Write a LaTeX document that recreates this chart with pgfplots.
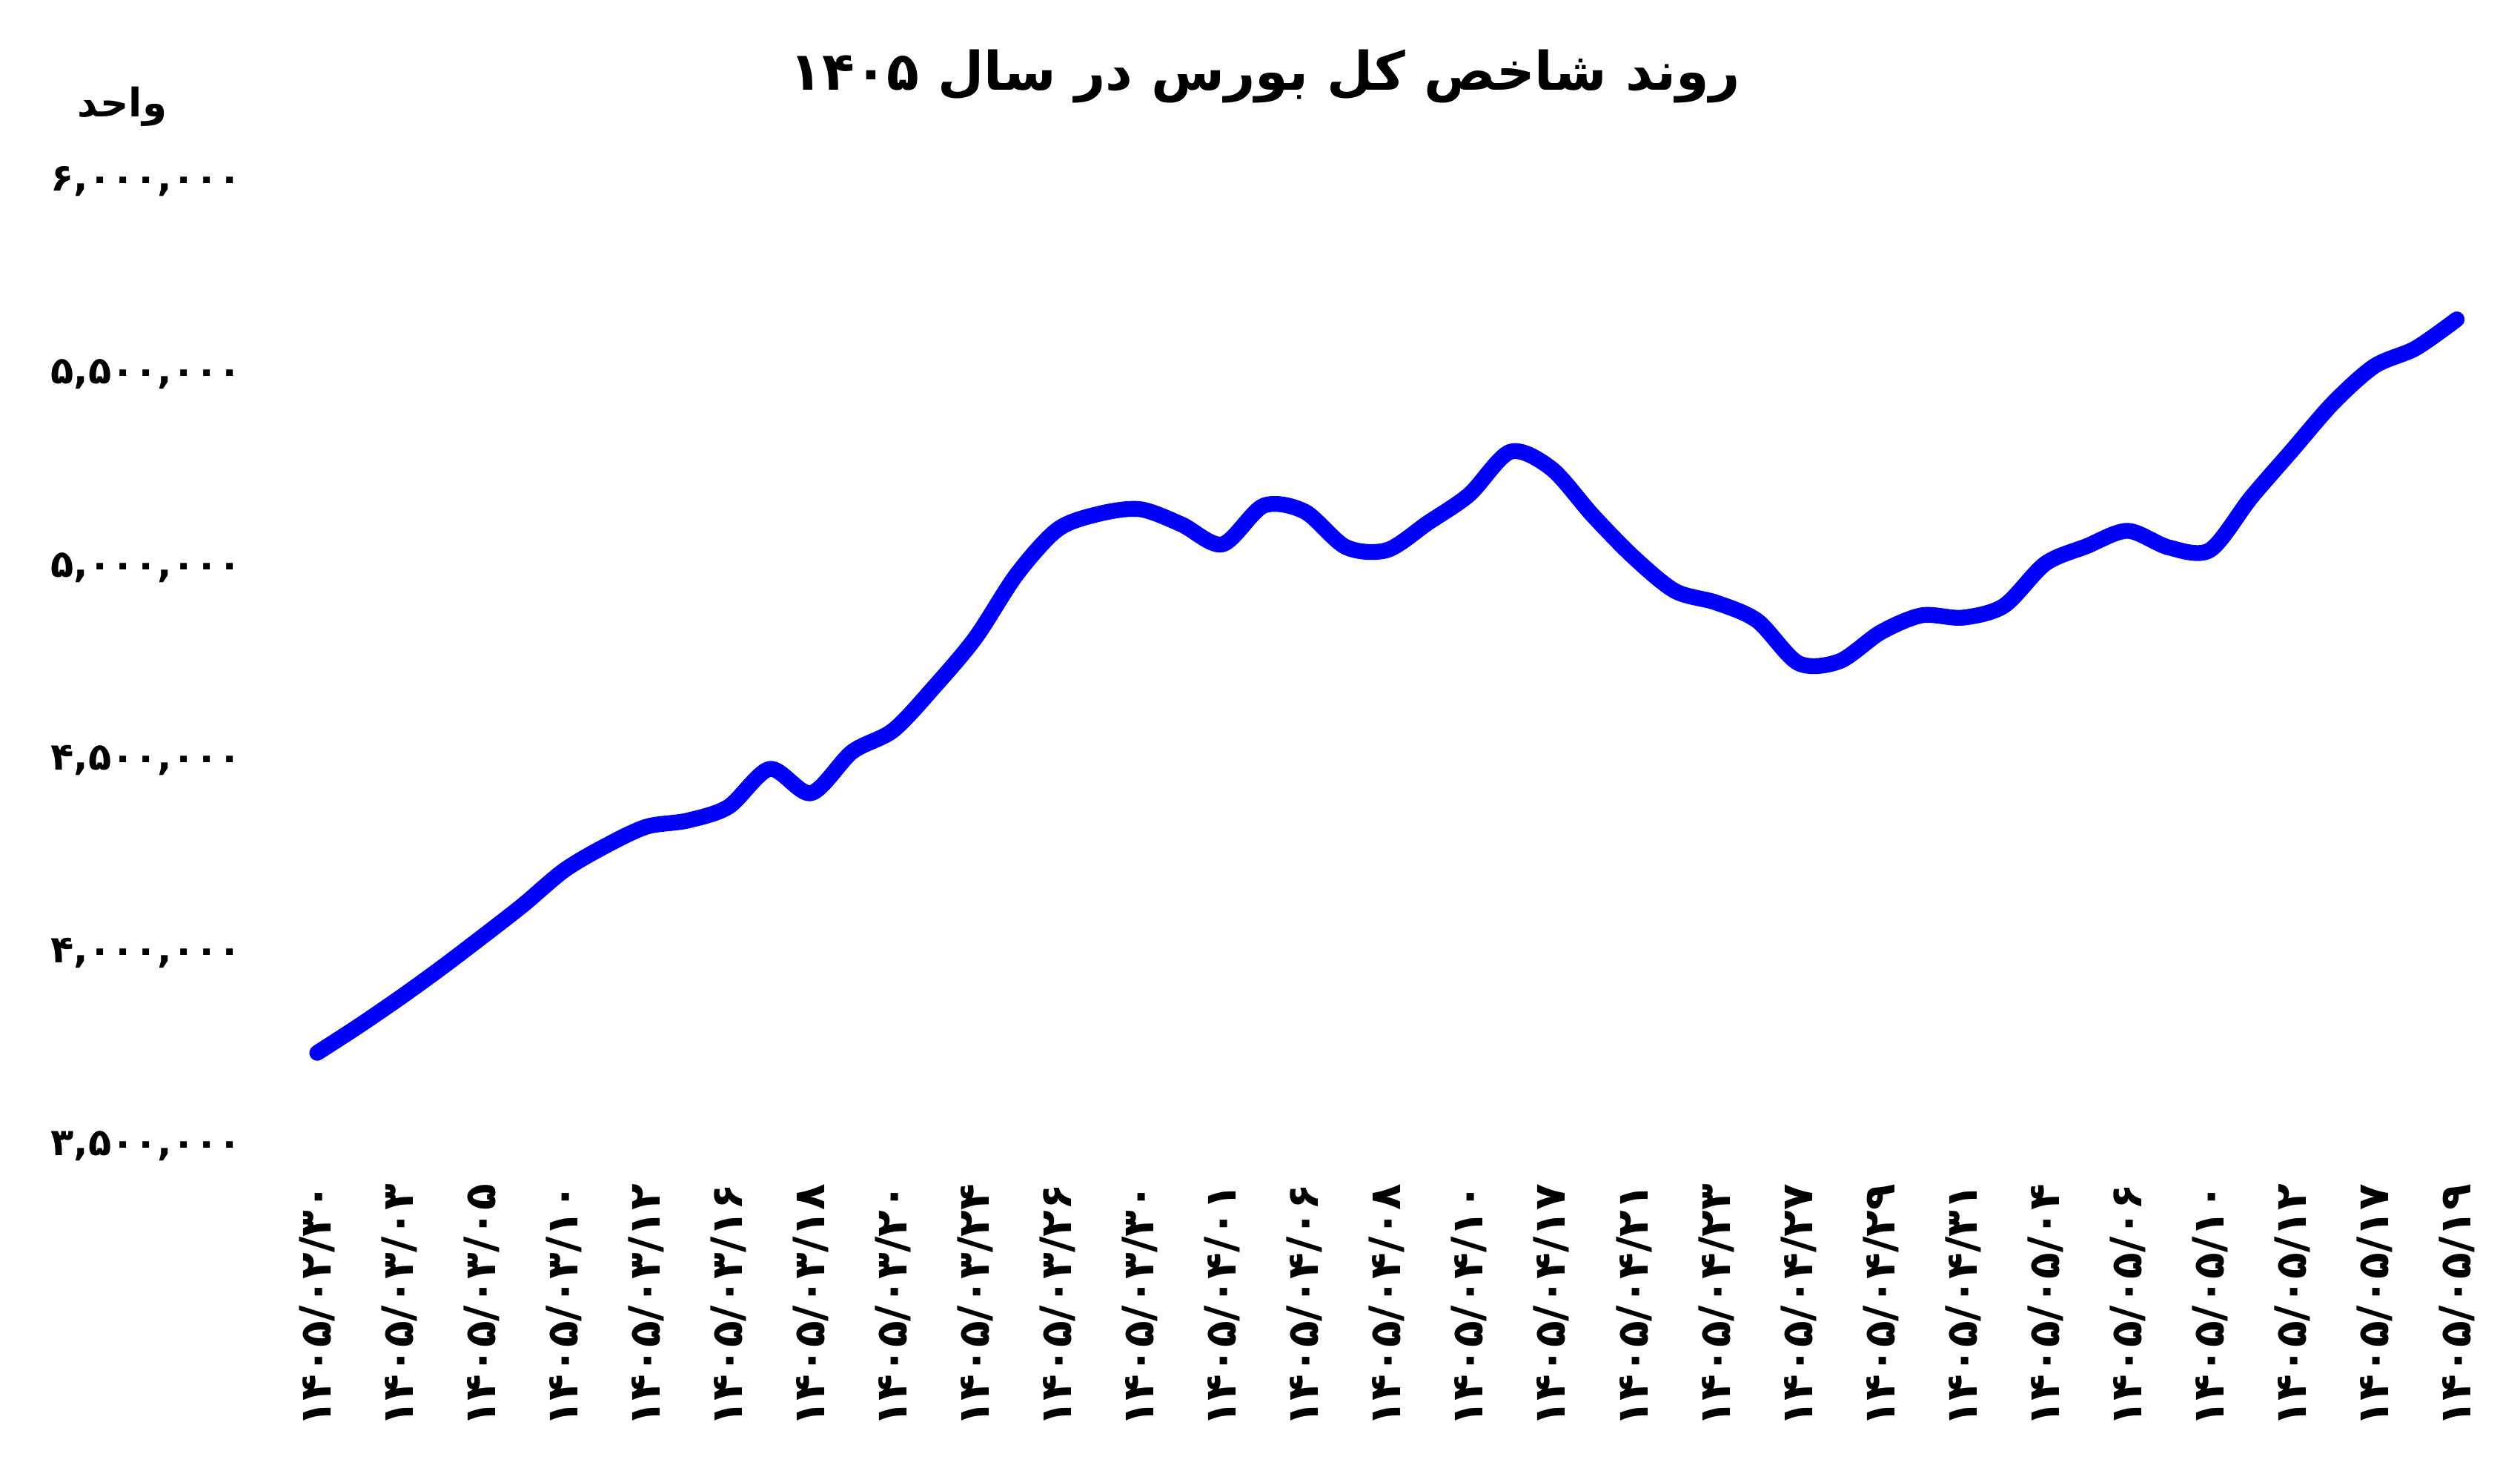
\documentclass[border=0pt]{standalone}
\usepackage{fontspec}
\usepackage{pgfplots}
\pgfplotsset{compat=1.18}
\TeXXeTstate=1
\newfontfamily\fa[Script=Arabic]{DejaVu Sans}
\definecolor{lineblue}{RGB}{0,0,250}

\pgfplotstableread{
x y
0 3742000
0.5 3811000
1 3884000
1.5 3961000
2 4042000
2.5 4125000
3 4215000
3.5 4278000
4 4328000
4.5 4344000
5 4380000
5.5 4478000
6 4415000
6.5 4522000
7 4578000
7.5 4691000
8 4818000
8.5 4982000
9 5099000
9.5 5139000
10 5151000
10.5 5112000
11 5060000
11.5 5160000
12 5145000
12.5 5053000
13 5045000
13.5 5116000
14 5189000
14.5 5300000
15 5256000
15.5 5135000
16 5026000
16.5 4939000
17 4909000
17.5 4862000
18 4752000
18.5 4757000
19 4832000
19.5 4876000
20 4870000
20.5 4901000
21 5010000
21.5 5055000
22 5095000
22.5 5052000
23 5045000
23.5 5181000
24 5304000
24.5 5427000
25 5522000
25.5 5568000
26 5643000
}\indexdata

\begin{document}
\begin{tikzpicture}
\useasboundingbox (0bp,0bp) rectangle (510bp,297bp);
\node[font=\fa\bfseries\fontsize{10.8}{13}\selectfont] at (256bp,281.5bp) {\beginR روند شاخص کل بورس در سال ۱۴۰۵\endR};
\node[font=\fa\bfseries\fontsize{8}{10}\selectfont] at (24.75bp,275.4bp) {\beginR واحد\endR};
\begin{axis}[
 at={(64.2bp,65.1bp)}, anchor=south west,
 scale only axis, width=433bp, height=195.15bp,
 xmin=0, xmax=26, ymin=3500000, ymax=6000000,
 scaled y ticks=false,
 axis line style={draw=none}, tick style={draw=none},
 xtick={0,1,...,26},
 xticklabels={۱۴۰۵/۰۲/۳۰,۱۴۰۵/۰۳/۰۳,۱۴۰۵/۰۳/۰۵,۱۴۰۵/۰۳/۱۰,۱۴۰۵/۰۳/۱۲,۱۴۰۵/۰۳/۱۶,۱۴۰۵/۰۳/۱۸,۱۴۰۵/۰۳/۲۰,۱۴۰۵/۰۳/۲۴,۱۴۰۵/۰۳/۲۶,۱۴۰۵/۰۳/۳۰,۱۴۰۵/۰۴/۰۱,۱۴۰۵/۰۴/۰۶,۱۴۰۵/۰۴/۰۸,۱۴۰۵/۰۴/۱۰,۱۴۰۵/۰۴/۱۷,۱۴۰۵/۰۴/۲۱,۱۴۰۵/۰۴/۲۳,۱۴۰۵/۰۴/۲۷,۱۴۰۵/۰۴/۲۹,۱۴۰۵/۰۴/۳۱,۱۴۰۵/۰۵/۰۴,۱۴۰۵/۰۵/۰۶,۱۴۰۵/۰۵/۱۰,۱۴۰۵/۰۵/۱۲,۱۴۰۵/۰۵/۱۷,۱۴۰۵/۰۵/۱۹},
 ytick={3500000,4000000,4500000,5000000,5500000,6000000},
 yticklabels={{۳,۵۰۰,۰۰۰},{۴,۰۰۰,۰۰۰},{۴,۵۰۰,۰۰۰},{۵,۰۰۰,۰۰۰},{۵,۵۰۰,۰۰۰},{۶,۰۰۰,۰۰۰}},
 xticklabel style={font=\fa\bfseries\fontsize{8.8}{10}\selectfont, yshift=-4.1bp, rotate=90, anchor=east},
 yticklabel style={font=\fa\bfseries\fontsize{7.7}{9}\selectfont, xshift=-11.8bp, anchor=east},
 clip=false,
]
\addplot[lineblue, line width=3.2bp, smooth, tension=0.5, line cap=round, line join=round] table[x=x,y=y] {\indexdata};
\end{axis}
\end{tikzpicture}
\end{document}
